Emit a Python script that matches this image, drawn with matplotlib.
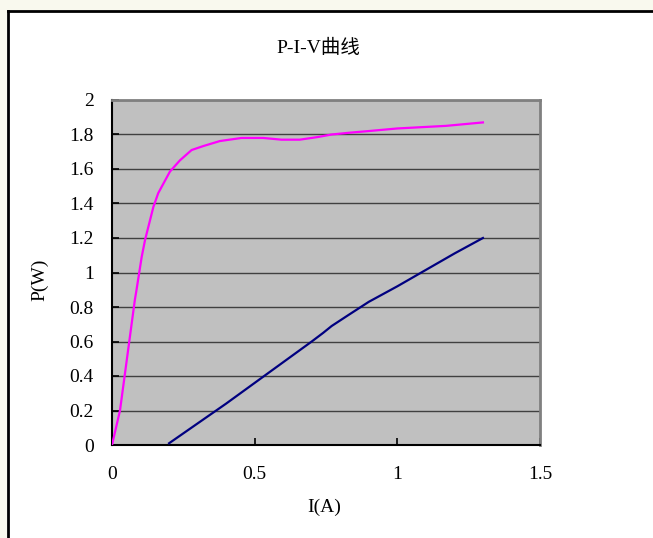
import matplotlib
matplotlib.use('Agg')
import matplotlib.pyplot as plt
from matplotlib.lines import Line2D
from matplotlib.patches import Rectangle

# P-I curve (magenta)
p_current = [0, 0.028, 0.08, 0.086, 0.104, 0.116, 0.145, 0.162, 0.203, 0.238, 0.279, 0.32,
             0.378, 0.454, 0.53, 0.594, 0.658, 0.72, 0.77, 0.83, 0.9, 1.0, 1.17, 1.3]
p_power = [0, 0.2, 0.84, 0.9, 1.09, 1.19, 1.38, 1.46, 1.585, 1.65, 1.71, 1.733,
           1.762, 1.78, 1.78, 1.77, 1.77, 1.785, 1.80, 1.81, 1.82, 1.835, 1.85, 1.87]

# V-I curve (navy)
v_current = [0.2, 0.3, 0.4, 0.5, 0.6, 0.7, 0.74, 0.77, 0.83, 0.9, 1.0, 1.1, 1.2, 1.3]
v_voltage = [0.01, 0.125, 0.24, 0.36, 0.48, 0.6, 0.65, 0.69, 0.755, 0.83, 0.92, 1.015, 1.11, 1.2]

x_ticks = [0, 0.5, 1, 1.5]
x_labels = ['0', '0.5', '1', '1.5']
y_ticks = [0, 0.2, 0.4, 0.6, 0.8, 1, 1.2, 1.4, 1.6, 1.8, 2]
y_labels = ['0', '0.2', '0.4', '0.6', '0.8', '1', '1.2', '1.4', '1.6', '1.8', '2']

fonts = ['Liberation Serif', 'Noto Sans CJK SC']
plt.rcParams['font.family'] = fonts

fig = plt.figure(figsize=(6.53, 5.38), dpi=100)
fig.patch.set_facecolor('white')

# cream strips and black frame around the chart
fig.patches.append(Rectangle((0, 1 - 10 / 538), 1, 10 / 538, transform=fig.transFigure,
                             facecolor='#f9f9ee', edgecolor='none', zorder=0))
fig.patches.append(Rectangle((0, 0), 7 / 653, 1, transform=fig.transFigure,
                             facecolor='#f9f9ee', edgecolor='none', zorder=0))
fig.lines.append(Line2D([8 / 653, 1], [1 - 11 / 538, 1 - 11 / 538], transform=fig.transFigure,
                        color='black', linewidth=2))
fig.lines.append(Line2D([8 / 653, 8 / 653], [0, 1 - 11 / 538], transform=fig.transFigure,
                        color='black', linewidth=2))

ax = fig.add_axes([112 / 653, 93 / 538, 428 / 653, 345 / 538])
ax.set_facecolor('#c0c0c0')

ax.plot(p_current, p_power, color='#ff00ff', linewidth=1.6, zorder=3)
ax.plot(v_current, v_voltage, color='#000080', linewidth=1.6, zorder=3)

ax.set_xlim(0, 1.5)
ax.set_ylim(0, 2)
ax.set_xticks(x_ticks)
ax.set_xticklabels(x_labels)
ax.set_yticks(y_ticks)
ax.set_yticklabels(y_labels)
ax.tick_params(axis='both', direction='in', length=5, width=1.2, labelsize=14, colors='black')
ax.tick_params(axis='y', pad=13)
ax.tick_params(axis='x', pad=15)

ax.grid(axis='y', color='#404040', linewidth=1)
ax.set_axisbelow(True)

for side in ['top', 'right']:
    ax.spines[side].set_color('#808080')
    ax.spines[side].set_linewidth(2)
for side in ['left', 'bottom']:
    ax.spines[side].set_color('black')
    ax.spines[side].set_linewidth(1.5)

fig.text(318 / 653, 1 - 48 / 538, 'P-I-V曲线', ha='center', va='center', fontsize=14, family=fonts)
fig.text(40 / 653, 1 - 280 / 538, 'P(W)', ha='center', va='center', rotation=90, fontsize=14, family=fonts)
fig.text(324 / 653, 1 - 507 / 538, 'I(A)', ha='center', va='center', fontsize=14, family=fonts)

fig.savefig('out.png', dpi=100)
